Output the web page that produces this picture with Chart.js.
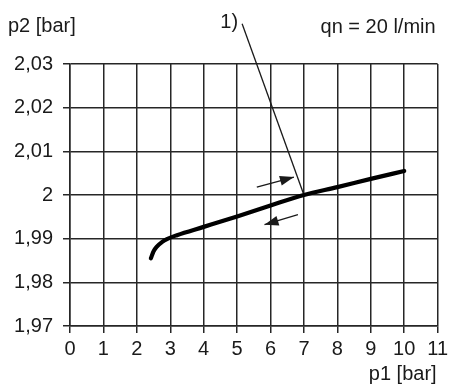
<!DOCTYPE html>
<html>
<head>
<meta charset="utf-8">
<script src="https://cdn.jsdelivr.net/npm/chart.js@4/dist/chart.umd.min.js"></script>
<style>
  html, body { margin: 0; padding: 0; background: #fff; }
  #wrap { width: 452px; height: 385px; }
</style>
</head>
<body>
<div id="wrap"><canvas id="c"></canvas></div>
<script>
'use strict';

// axis ticks
const xTicks = [0, 1, 2, 3, 4, 5, 6, 7, 8, 9, 10, 11];
const yTicks = [1.97, 1.98, 1.99, 2.00, 2.01, 2.02, 2.03];
const yTickLabels = ['1,97', '1,98', '1,99', '2', '2,01', '2,02', '2,03'];

// characteristic curve p2 over p1
const curveP1 = [2.42, 2.5, 2.6, 2.75, 2.9, 3.2, 4, 5, 6, 7, 8, 9, 10];
const curveP2 = [1.9855, 1.9871, 1.9882, 1.9892, 1.9899, 1.9908, 1.9927, 1.9951, 1.9976, 2.0, 2.0018, 2.0037, 2.0055];

// reference line "1)" from label down to the set point
const refP1 = [5.15, 7];
const refP2 = [2.0392, 2.0];

// direction arrows (last point = tip)
const upArrowP1 = [5.59, 6.70];
const upArrowP2 = [2.0018, 2.0041];
const downArrowP1 = [6.82, 5.82];
const downArrowP2 = [1.9955, 1.9932];

const toXY = (xs, ys) => xs.map((x, i) => ({ x, y: ys[i] }));

const INK = '#1a1a1a';
const FONT = "'Liberation Sans', Arial, sans-serif";

const arrowHeads = {
  id: 'arrowHeads',
  afterDatasetsDraw(chart) {
    const ctx = chart.ctx;
    chart.data.datasets.forEach((ds, i) => {
      if (!ds.arrow) return;
      const pts = chart.getDatasetMeta(i).data;
      const a = pts[pts.length - 2], b = pts[pts.length - 1];
      const ang = Math.atan2(b.y - a.y, b.x - a.x);
      const len = 14, half = 5;
      ctx.save();
      ctx.fillStyle = INK;
      ctx.beginPath();
      ctx.moveTo(b.x, b.y);
      ctx.lineTo(b.x - len * Math.cos(ang) + half * Math.sin(ang), b.y - len * Math.sin(ang) - half * Math.cos(ang));
      ctx.lineTo(b.x - len * Math.cos(ang) - half * Math.sin(ang), b.y - len * Math.sin(ang) + half * Math.cos(ang));
      ctx.closePath();
      ctx.fill();
      ctx.restore();
    });
  }
};

const labels = {
  id: 'labels',
  afterDraw(chart) {
    const ctx = chart.ctx;
    const area = chart.chartArea;
    ctx.save();
    ctx.fillStyle = INK;
    ctx.font = '20px ' + FONT;
    ctx.textBaseline = 'alphabetic';
    ctx.textAlign = 'left';
    ctx.fillText('p2 [bar]', 8, 32);
    ctx.textAlign = 'right';
    ctx.fillText('qn = 20 l/min', area.right - 2, 33);
    ctx.fillText('p1 [bar]', area.right - 1, 380);
    // "1)" next to the top of the reference line
    const refIdx = chart.data.datasets.findIndex(d => d.label === 'ref');
    const p = chart.getDatasetMeta(refIdx).data[0];
    ctx.fillText('1)', p.x - 4, p.y + 4);
    ctx.restore();
  }
};

new Chart(document.getElementById('c'), {
  type: 'line',
  data: {
    datasets: [
      {
        label: 'curve',
        data: toXY(curveP1, curveP2),
        borderColor: '#000',
        borderWidth: 4.2,
        borderCapStyle: 'round',
        pointRadius: 0,
        cubicInterpolationMode: 'monotone',
      },
      {
        label: 'ref',
        data: toXY(refP1, refP2),
        borderColor: INK,
        borderWidth: 1.3,
        pointRadius: 0,
        clip: false,
      },
      {
        label: 'up',
        arrow: true,
        data: toXY(upArrowP1, upArrowP2),
        borderColor: INK,
        borderWidth: 1.4,
        pointRadius: 0,
      },
      {
        label: 'down',
        arrow: true,
        data: toXY(downArrowP1, downArrowP2),
        borderColor: INK,
        borderWidth: 1.4,
        pointRadius: 0,
      },
    ],
  },
  options: {
    responsive: true,
    maintainAspectRatio: false,
    animation: false,
    layout: { padding: { top: 64, right: 9, left: 0, bottom: 0 } },
    plugins: {
      legend: { display: false },
      tooltip: { enabled: false },
    },
    scales: {
      x: {
        type: 'linear',
        min: 0,
        max: 11,
        afterBuildTicks: (axis) => { axis.ticks = xTicks.map(v => ({ value: v })); },
        afterFit: (axis) => { axis.height = 59; },
        ticks: {
          color: INK,
          padding: 4,
          font: { size: 20, family: FONT },
          maxRotation: 0,
          autoSkip: false,
          callback: (v) => String(v),
        },
        grid: { color: '#262626', lineWidth: 1.5, tickLength: 7 },
        border: { color: '#262626', width: 1.5 },
      },
      y: {
        min: 1.97,
        max: 2.03,
        afterBuildTicks: (axis) => { axis.ticks = yTicks.map(v => ({ value: v })); },
        afterFit: (axis) => { axis.width = 70; },
        ticks: {
          color: INK,
          padding: 10,
          font: { size: 20, family: FONT },
          autoSkip: false,
          callback: (v, i) => yTickLabels[i],
        },
        grid: { color: '#262626', lineWidth: 1.5, tickLength: 7 },
        border: { color: '#262626', width: 1.5 },
      },
    },
  },
  plugins: [arrowHeads, labels],
});
</script>
</body>
</html>
